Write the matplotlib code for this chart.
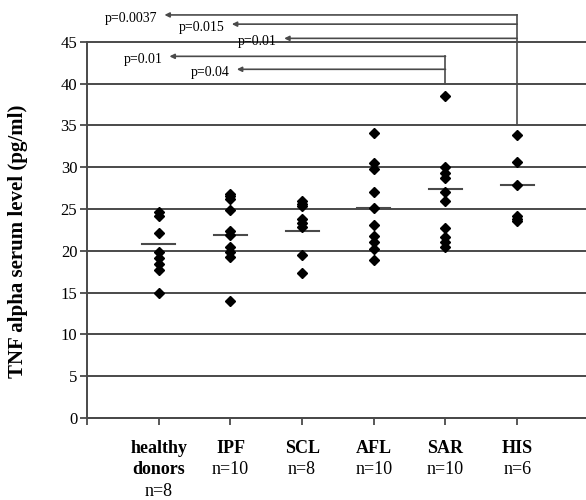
import numpy as np
import matplotlib.pyplot as plt

plt.rcParams['font.family'] = ['Liberation Serif', 'DejaVu Serif']

groups = ['healthy\ndonors', 'IPF', 'SCL', 'AFL', 'SAR', 'HIS']
n_labels = ['n=8', 'n=10', 'n=8', 'n=10', 'n=10', 'n=6']

healthy = [24.6, 24.1, 22.1, 19.8, 19.1, 18.4, 17.7, 15.0]
ipf = [26.8, 26.5, 26.2, 24.9, 22.4, 21.9, 20.5, 19.9, 19.3, 14.0]
scl = [25.9, 25.6, 25.3, 23.8, 23.3, 22.8, 19.5, 17.3]
afl = [34.1, 30.5, 29.8, 27.0, 25.1, 23.1, 21.8, 21.0, 20.2, 18.9]
sar = [38.5, 30.0, 29.3, 28.7, 27.0, 25.9, 22.7, 21.7, 21.0, 20.4]
his = [33.8, 30.6, 27.9, 24.2, 23.8, 23.5]
group_means = [20.8, 21.9, 22.4, 25.1, 27.4, 27.9]

# significance brackets: from group, to group, p text, height
comp_from = [5, 5, 5, 4, 4]
comp_to = [0, 1, 2, 0, 1]
comp_p = ['p=0.0037', 'p=0.015', 'p=0.01', 'p=0.01', 'p=0.04']
comp_level = [48.2, 47.1, 45.4, 43.25, 41.7]
comp_shift = [0.08, 0.02, -0.25, 0.15, 0.09]
bracket_base = {5: 35, 4: 40}

values = [healthy, ipf, scl, afl, sar, his]
gray = '#4a4a4a'

fig = plt.figure(figsize=(5.86, 5), dpi=100)
ax = fig.add_axes([0.1485, 0.164, 0.8515, 0.7526])

for i, vals in enumerate(values):
    x = np.full(len(vals), i + 1)
    ax.plot(x, vals, 'D', color='black', markersize=4.6, zorder=3)
    ax.plot([i + 1 - 0.23, i + 1 + 0.23], [group_means[i]] * 2, color=gray, lw=1.5, zorder=2)

ax.set_xlim(0, 6.96)
ax.set_ylim(0, 45)
ax.set_yticks(np.arange(0, 46, 5))
ax.set_xticks(range(0, 7))
ax.set_xticklabels([])
ax.yaxis.grid(True, color=gray, lw=1.4)
for gl in ax.get_ygridlines():
    gl.set_clip_on(False)
ax.set_axisbelow(True)
for s in ['top', 'right']:
    ax.spines[s].set_visible(False)
for s in ['left', 'bottom']:
    ax.spines[s].set_color(gray)
    ax.spines[s].set_linewidth(1.4)
ax.tick_params(axis='y', direction='out', length=5, color=gray, width=1.3, labelsize=12, pad=2)
ax.tick_params(axis='x', direction='out', length=5, color=gray, width=1.3)

ax.set_ylabel('TNF alpha serum level (pg/ml)', fontsize=15, fontweight='bold')
ax.yaxis.set_label_coords(-0.118, 0.47)

# category labels below the axis
trans = ax.get_xaxis_transform()
row_y = [-0.08, -0.138, -0.194]
for i, name in enumerate(groups):
    lines = name.split('\n')
    for k, line in enumerate(lines):
        ax.text(i + 1, row_y[k], line, transform=trans, ha='center', va='center',
                fontsize=13, fontweight='bold')
    ax.text(i + 1, row_y[len(lines)], n_labels[i], transform=trans, ha='center',
            va='center', fontsize=13)

# p-value arrows
for src, dst, p, lev, sh in zip(comp_from, comp_to, comp_p, comp_level, comp_shift):
    tip = dst + 1 + sh
    ax.annotate('', xy=(tip, lev), xytext=(src + 1, lev),
                arrowprops=dict(arrowstyle='-|>', color=gray, lw=1.2,
                                mutation_scale=7, shrinkA=0, shrinkB=0),
                annotation_clip=False)
    ax.text(tip - 0.1, lev - 0.4, p, ha='right', va='center', fontsize=10, clip_on=False)
for src, base in bracket_base.items():
    top = max(l for f, l in zip(comp_from, comp_level) if f == src)
    ax.plot([src + 1, src + 1], [base, top], color=gray, lw=1.2, clip_on=False)

fig.savefig('out.png', dpi=100)
